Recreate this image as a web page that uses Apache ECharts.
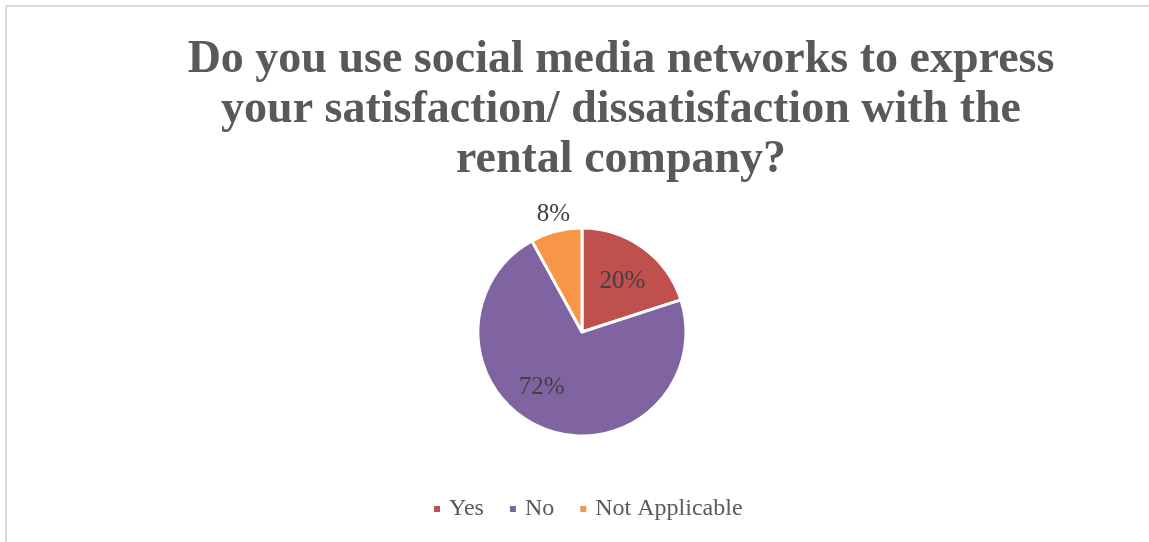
<!DOCTYPE html>
<html>
<head>
<meta charset="utf-8">
<script src="https://cdn.jsdelivr.net/npm/echarts@6/dist/echarts.min.js"></script>
<style>
  html, body { margin: 0; padding: 0; background: #fff; overflow: hidden; }
  #chart { width: 1149px; height: 542px; }
</style>
</head>
<body>
<div id="chart"></div>
<script>
// Survey answers and their shares (percent)
const categories = ['Yes', 'No', 'Not Applicable'];
const shares = [20, 72, 8];
const sliceColors = ['#C0504D', '#8064A2', '#F79646'];

const titleText = 'Do you use social media networks to express\nyour satisfaction/ dissatisfaction with the\nrental company?';

// label placement per slice
const labelStyles = [
  { position: 'inside', offset: [8, -6] },
  { position: 'inside', offset: [-20, 4] },
  { position: 'inside', offset: [-15, -64] }
];

const chart = echarts.init(document.getElementById('chart'), null, { renderer: 'canvas' });

chart.setOption({
  backgroundColor: '#ffffff',
  animation: false,
  title: {
    text: titleText,
    left: 616,
    top: 30,
    textAlign: 'center',
    textStyle: {
      fontFamily: 'Liberation Serif',
      fontWeight: 'bold',
      fontSize: 46,
      lineHeight: 50,
      color: '#595959'
    }
  },
  legend: {
    data: categories,
    left: 432,
    top: 497,
    padding: 0,
    icon: 'rect',
    itemWidth: 8,
    itemHeight: 8,
    itemGap: 24,
    selectedMode: false,
    textStyle: {
      fontFamily: 'Liberation Serif',
      fontSize: 24,
      color: '#595959',
      padding: [0, 0, 0, 3]
    }
  },
  graphic: [
    {
      type: 'line',
      silent: true,
      shape: { x1: 6, y1: 6, x2: 1149, y2: 6 },
      style: { stroke: '#d9d9d9', lineWidth: 2 }
    },
    {
      type: 'line',
      silent: true,
      shape: { x1: 6, y1: 6, x2: 6, y2: 542 },
      style: { stroke: '#d9d9d9', lineWidth: 2 }
    }
  ],
  series: [{
    type: 'pie',
    center: [582, 332],
    radius: 104,
    startAngle: 90,
    clockwise: true,
    itemStyle: { borderColor: '#ffffff', borderWidth: 3 },
    label: {
      show: true,
      formatter: '{d}%',
      fontFamily: 'Liberation Serif',
      fontSize: 25,
      color: '#404040'
    },
    labelLine: { show: false },
    emphasis: { disabled: true },
    data: categories.map((name, i) => ({
      name: name,
      value: shares[i],
      itemStyle: { color: sliceColors[i] },
      label: labelStyles[i]
    }))
  }]
});
</script>
</body>
</html>
